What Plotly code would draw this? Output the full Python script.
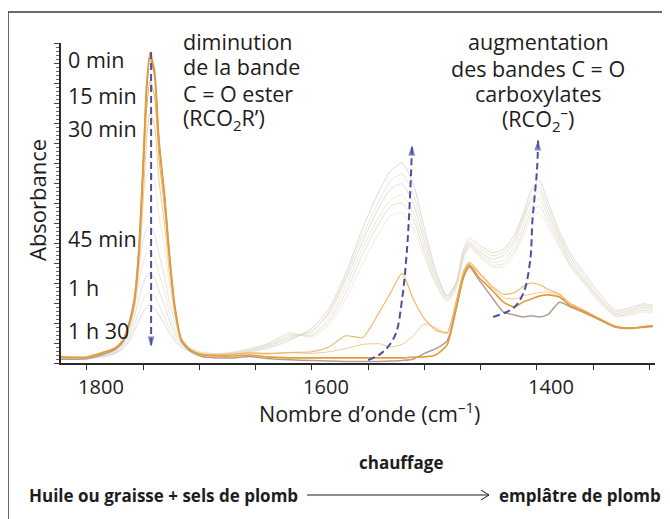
import plotly.graph_objects as go

# ---------------- data ----------------
WN = [1823, 1800, 1785, 1775, 1768, 1762, 1758, 1754, 1750, 1747,
      1744, 1740, 1736, 1731, 1727, 1722, 1716, 1708, 1698, 1685,
      1670, 1655, 1640, 1620, 1600, 1585, 1570, 1555, 1540, 1530,
      1520, 1510, 1500, 1490, 1480, 1472, 1465, 1460, 1452, 1440,
      1430, 1420, 1412, 1405, 1398, 1390, 1380, 1370, 1360, 1345,
      1330, 1315, 1305, 1297]

# faint late spectra (low ester band, strong carboxylate bands)
F1 = [.012, .014, .02, .03, .045, .07, .10, .13, .16, .175, .18, .17, .15, .12, .095, .07, .05, .035, .028, .025, .028, .035, .045, .07,
      .11, .17, .28, .42, .54, .60, .625, .56, .42, .29, .21, .25, .36, .39, .37, .345, .355, .40, .47, .54, .57, .50, .41, .34, .29, .22, .165, .175, .185, .18]
F2 = [.012, .014, .02, .03, .05, .08, .115, .16, .2, .215, .22, .21, .18, .145, .11, .08, .055, .038, .03, .026, .03, .038, .05, .075,
      .10, .16, .27, .40, .51, .57, .59, .53, .40, .28, .21, .25, .35, .38, .36, .335, .345, .39, .46, .52, .55, .485, .40, .33, .28, .21, .16, .17, .18, .175]
F3 = [.013, .015, .022, .032, .055, .09, .14, .2, .25, .272, .28, .265, .225, .18, .135, .095, .06, .04, .03, .027, .03, .04, .052, .08,
      .10, .155, .26, .38, .49, .545, .56, .50, .38, .27, .205, .245, .345, .375, .35, .325, .335, .38, .45, .51, .535, .47, .39, .32, .27, .205, .155, .165, .175, .17]
F4 = [.014, .016, .024, .035, .06, .105, .165, .25, .315, .34, .35, .33, .28, .22, .16, .11, .068, .043, .032, .028, .032, .042, .055, .085,
      .09, .14, .24, .36, .46, .51, .525, .47, .36, .26, .20, .24, .34, .37, .345, .315, .32, .365, .43, .49, .515, .455, .38, .31, .265, .20, .15, .16, .17, .165]
F5 = [.014, .016, .025, .038, .065, .12, .19, .3, .385, .42, .43, .405, .34, .27, .195, .13, .075, .045, .033, .029, .033, .044, .058, .09,
      .085, .13, .22, .34, .44, .49, .50, .45, .345, .25, .195, .235, .335, .365, .34, .305, .31, .35, .415, .47, .49, .44, .37, .305, .26, .195, .148, .155, .165, .16]
F6 = [.015, .017, .027, .04, .07, .13, .21, .36, .53, .585, .60, .565, .46, .36, .25, .155, .08, .047, .034, .03, .034, .046, .06, .095,
      .08, .12, .20, .31, .41, .46, .47, .42, .33, .245, .19, .23, .33, .36, .335, .30, .30, .34, .40, .455, .47, .425, .36, .30, .255, .19, .145, .15, .16, .155]

# early spectra
T30 = [.017, .017, .03, .043, .067, .12, .17, .29, .51, .70, .78, .74, .57, .43, .29, .152, .064, .038, .027, .025, .026, .03, .028, .032,
       .03, .035, .045, .058, .06, .05, .058, .085, .122, .11, .095, .185, .285, .31, .28, .235, .205, .2, .21, .215, .22, .222, .212, .182, .166, .139, .114, .11, .114, .117]
T15 = [.018, .018, .032, .045, .07, .128, .185, .32, .575, .79, .88, .835, .64, .48, .325, .168, .068, .04, .028, .026, .028, .032, .03, .033,
       .035, .05, .085, .08, .16, .22, .28, .2, .138, .103, .094, .19, .29, .315, .285, .24, .215, .22, .24, .25, .245, .23, .215, .185, .168, .14, .115, .11, .114, .117]
T0B = [.012, .013, .028, .042, .066, .125, .19, .34, .62, .85, .955, .90, .685, .515, .345, .175, .068, .036, .02, .016, .016, .02, .014, .01,
       .008, .006, .005, .005, .005, .006, .008, .012, .03, .045, .068, .17, .27, .30, .262, .205, .16, .15, .144, .148, .144, .152, .19, .175, .16, .136, .112, .108, .112, .114]
T0 = [.019, .019, .034, .047, .072, .134, .197, .353, .634, .869, .969, .916, .697, .525, .353, .181, .072, .041, .025, .022, .022, .025, .019, .016,
      .016, .016, .016, .016, .016, .016, .016, .018, .019, .025, .056, .166, .275, .306, .269, .228, .191, .175, .191, .2, .209, .213, .206, .178, .163, .138, .113, .109, .113, .116]

# dashed trend arrows (wavenumber, absorbance)
ARR_ESTER_X = [1743, 1743]
ARR_ESTER_Y = [0.972, 0.05]
ARR_C1_X = [1550, 1537, 1526, 1520, 1515.6, 1513, 1511]
ARR_C1_Y = [0.009, 0.034, 0.0875, 0.197, 0.353, 0.509, 0.681]
ARR_C2_X = [1439, 1421, 1412, 1406, 1404, 1400, 1399]
ARR_C2_Y = [0.144, 0.172, 0.219, 0.322, 0.447, 0.603, 0.697]

TIME_LABELS = ["0 min", "15 min", "30 min", "45 min", "1 h", "1 h 30"]
X_TICKS = [1800, 1750, 1700, 1650, 1600, 1550, 1500, 1450, 1400, 1350, 1300]
X_TICK_TEXT = ["1800", "", "", "", "1600", "", "", "", "1400", "", ""]

# ---------------- styling / layout ----------------
OFF = 8                      # page body margin of the html page
W, H = 670 - OFF, 519 - OFF
PL, PT, PW, PH = 61, 43, 594, 320   # plot area in screenshot pixels
ML, MT = PL - OFF, PT - OFF
MR, MB = W - ML - PW, H - MT - PH
FONT = "Open Sans, Lato, sans-serif"
TXT = "#1e1c1c"
ARROW_COL = "#4a52a0"


def PX(px):   # screenshot pixel -> paper
    return (px - PL) / PW


def PY(py):
    return (PT + PH - py) / PH


fig = go.Figure()

styles = [
    (F6, "#f1e6cf", 0.8), (F5, "#dadada", 0.8), (F4, "#efe2bd", 0.8),
    (F3, "#d6d6d6", 0.8), (F2, "#ece0c2", 0.8), (F1, "#d0d0d0", 0.8),
    (T30, "#f1c992", 1.0), (T15, "#eeb462", 1.1),
    (T0B, "#b29d92", 1.5), (T0, "#e59a35", 1.6),
]
for ys, col, w in styles:
    fig.add_trace(go.Scatter(x=WN, y=ys, mode="lines",
                             line=dict(color=col, width=w, shape="spline", smoothing=0.6),
                             hoverinfo="skip", showlegend=False))

for ax_, ay_, smooth in [(ARR_ESTER_X, ARR_ESTER_Y, 0), (ARR_C1_X, ARR_C1_Y, 1), (ARR_C2_X, ARR_C2_Y, 1)]:
    fig.add_trace(go.Scatter(x=ax_, y=ay_, mode="lines",
                             line=dict(color=ARROW_COL, width=2, dash="7px,4px",
                                       shape="spline" if smooth else "linear"),
                             hoverinfo="skip", showlegend=False))
    fig.add_trace(go.Scatter(x=ax_[-2:], y=ay_[-2:], mode="markers",
                             marker=dict(symbol="arrow", size=[0, 11], angleref="previous",
                                         color=ARROW_COL, line=dict(width=0)),
                             hoverinfo="skip", showlegend=False))

anns = []


def ann(text, px, py, size=21.5, xanchor="left", bold=False, angle=0):
    anns.append(dict(text=("<b>%s</b>" % text) if bold else text,
                     x=PX(px), y=PY(py), xref="paper", yref="paper",
                     xanchor=xanchor, yanchor="middle", showarrow=False,
                     textangle=angle,
                     font=dict(family=FONT, size=size, color=TXT)))


for lab, cy in zip(TIME_LABELS, [60, 95, 128, 238, 287, 330]):
    ann(lab, 66, cy)

for line, cy in zip(["diminution", "de la bande", "C = O ester", "(RCO<sub>2</sub>R’)"], [42, 67, 93, 119]):
    ann(line, 181, cy)
for line, cy in zip(["augmentation", "des bandes C = O", "carboxylates", "(RCO<sub>2</sub><sup>–</sup>)"], [42, 68, 93, 119]):
    ann(line, 538, cy, xanchor="center")

ann("Absorbance", 37, 200, size=22, xanchor="center", angle=-90)
ann("Nombre d’onde (cm<sup>–1</sup>)", 369, 412, xanchor="center")
ann("chauffage", 401, 462, size=17, xanchor="center", bold=True)
ann("Huile ou graisse + sels de plomb", 300, 495, size=17, xanchor="right", bold=True)
ann("emplâtre de plomb", 497, 495, size=17, xanchor="left", bold=True)

shapes = [
    dict(type="rect", xref="paper", yref="paper", x0=PX(8), x1=PX(700), y0=PY(12), y1=PY(560),
         line=dict(color="#3a3a3a", width=1.5), fillcolor="rgba(0,0,0,0)", layer="below"),
    dict(type="line", xref="paper", yref="paper", x0=PX(307), x1=PX(489), y0=PY(495), y1=PY(495),
         line=dict(color=TXT, width=1)),
    dict(type="line", xref="paper", yref="paper", x0=PX(481), x1=PX(489), y0=PY(490), y1=PY(495),
         line=dict(color=TXT, width=1)),
    dict(type="line", xref="paper", yref="paper", x0=PX(481), x1=PX(489), y0=PY(500), y1=PY(495),
         line=dict(color=TXT, width=1)),
]

fig.update_layout(
    width=W, height=H,
    margin=dict(l=ML, r=MR, t=MT, b=MB, pad=0),
    paper_bgcolor="white", plot_bgcolor="white",
    font=dict(family=FONT, color=TXT),
    annotations=anns, shapes=shapes,
    xaxis=dict(range=[1823.1, 1295.1], showgrid=False, zeroline=False,
               showline=True, linecolor="#2a2a2a", linewidth=1.5,
               ticks="outside", ticklen=5, tickwidth=1.2, tickcolor="#2a2a2a",
               tickvals=X_TICKS, ticktext=X_TICK_TEXT, ticklabelshift=-14,
               tickfont=dict(family=FONT, size=20, color=TXT)),
    yaxis=dict(range=[0, 1], showgrid=False, zeroline=False,
               showline=True, linecolor="#2a2a2a", linewidth=1.5,
               ticks="outside", ticklen=5, tickwidth=1, tickcolor="#444",
               dtick=0.0625, showticklabels=False,
               minor=dict(ticks="outside", ticklen=3, dtick=0.0125, tickcolor="#666", tickwidth=0.8)),
)

fig.write_html("out.html")
